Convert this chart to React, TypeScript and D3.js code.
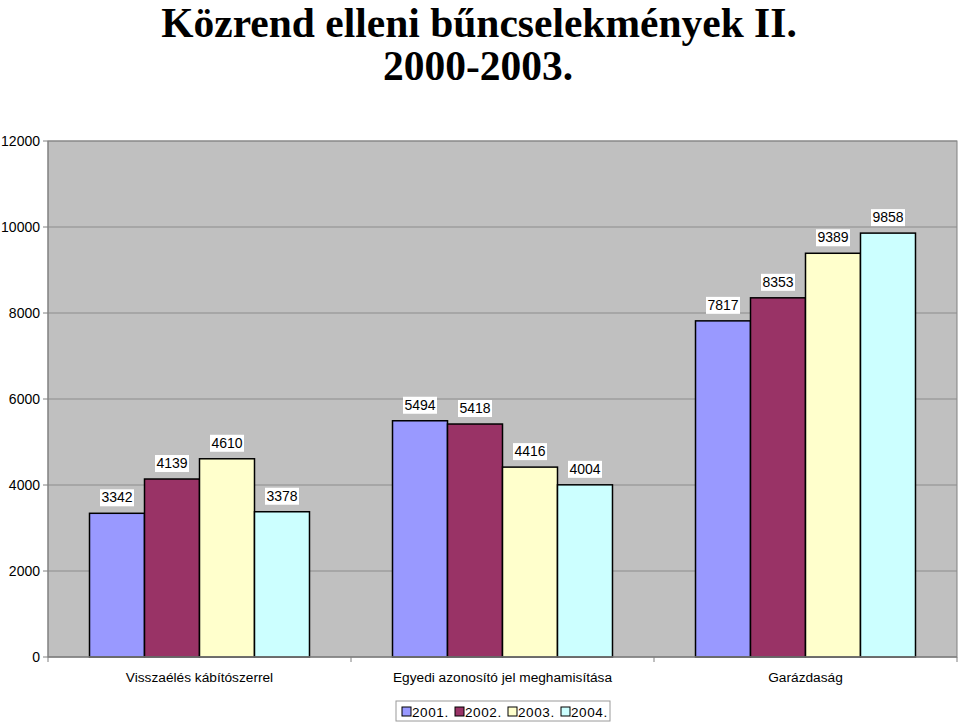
import * as d3 from 'd3';

const categories = ['Visszaélés kábítószerrel', 'Egyedi azonosító jel meghamisítása', 'Garázdaság'];
const years = ['2001.', '2002.', '2003.', '2004.'];
const values2001 = [3342, 5494, 7817];
const values2002 = [4139, 5418, 8353];
const values2003 = [4610, 4416, 9389];
const values2004 = [3378, 4004, 9858];
const yTicks = [0, 2000, 4000, 6000, 8000, 10000, 12000];
const colors = ['#9999FF', '#993366', '#FFFFCC', '#CCFFFF'];

const W = 960;
const H = 722;
const plot = { left: 48, right: 957, top: 141, bottom: 657 };
const sans = 'Liberation Sans, Arial, sans-serif';

export default function App() {
  const series = [values2001, values2002, values2003, values2004];

  const y = d3.scaleLinear().domain([0, 12000]).range([plot.bottom, plot.top]);
  const x0 = d3.scaleBand<string>()
    .domain(categories)
    .range([plot.left, plot.right])
    .paddingInner(0.274)
    .paddingOuter(0.137);
  const x1 = d3.scaleBand<string>().domain(years).range([0, x0.bandwidth()]);

  const step = x0.step();
  const boundaries = d3.range(categories.length + 1).map(i => plot.left + i * step);

  const legendX = 396;
  const legendY = 701;

  return (
    <svg width={W} height={H} style={{ position: 'absolute', left: 0, top: 0, background: '#fff' }}>
      {/* title */}
      <text x={479} y={37} textAnchor="middle" fontFamily="Liberation Serif, Times New Roman, serif"
        fontWeight="bold" fontSize={41.5}>Közrend elleni bűncselekmények II.</text>
      <text x={478} y={80} textAnchor="middle" fontFamily="Liberation Serif, Times New Roman, serif"
        fontWeight="bold" fontSize={41.5}>2000-2003.</text>

      {/* plot background */}
      <rect x={plot.left} y={plot.top} width={plot.right - plot.left} height={plot.bottom - plot.top}
        fill="#C0C0C0" stroke="#808080" strokeWidth={1} />

      {/* gridlines */}
      {yTicks.filter(t => t > 0).map(t => (
        <line key={t} x1={plot.left} x2={plot.right} y1={y(t)} y2={y(t)} stroke="#8c8c8c" strokeWidth={1} />
      ))}

      {/* y axis */}
      <line x1={plot.left} x2={plot.left} y1={plot.top} y2={plot.bottom} stroke="#808080" />
      {yTicks.map(t => (
        <g key={t}>
          <line x1={plot.left - 5} x2={plot.left} y1={y(t)} y2={y(t)} stroke="#808080" />
          <text x={40} y={y(t) + 5} textAnchor="end" fontFamily={sans} fontSize={14} fill="#000">{t}</text>
        </g>
      ))}

      {/* bars */}
      {categories.map((c, ci) => (
        <g key={c} transform={`translate(${x0(c)},0)`}>
          {years.map((yr, si) => {
            const v = series[si][ci];
            return (
              <rect key={yr} x={x1(yr)} y={y(v)} width={x1.bandwidth()} height={plot.bottom - y(v)}
                fill={colors[si]} stroke="#000" strokeWidth={1.5} />
            );
          })}
        </g>
      ))}

      {/* x axis */}
      <line x1={plot.left} x2={plot.right} y1={plot.bottom} y2={plot.bottom} stroke="#808080" strokeWidth={1.5} />
      {boundaries.map((b, i) => (
        <line key={i} x1={b} x2={b} y1={plot.bottom} y2={plot.bottom + 5} stroke="#808080" />
      ))}
      {categories.map(c => (
        <text key={c} x={(x0(c) ?? 0) + x0.bandwidth() / 2} y={682} textAnchor="middle"
          fontFamily={sans} fontSize={13.7} fill="#000">{c}</text>
      ))}

      {/* value labels */}
      {categories.map((c, ci) => (
        <g key={c} transform={`translate(${x0(c)},0)`}>
          {years.map((yr, si) => {
            const v = series[si][ci];
            const cx = (x1(yr) ?? 0) + x1.bandwidth() / 2;
            const ty = y(v) - 11;
            return (
              <g key={yr}>
                <rect x={cx - 17} y={ty - 13} width={34} height={17} fill="#fff" />
                <text x={cx} y={ty} textAnchor="middle" fontFamily={sans} fontSize={14} fill="#000">{v}</text>
              </g>
            );
          })}
        </g>
      ))}

      {/* legend */}
      <rect x={legendX} y={legendY} width={214} height={20} fill="#fff" stroke="#9a9a9a" />
      {years.map((yr, i) => {
        const lx = legendX + 6 + i * 53;
        return (
          <g key={yr}>
            <rect x={lx} y={legendY + 6} width={9} height={9} fill={colors[i]} stroke="#000" />
            <text x={lx + 10} y={legendY + 16} fontFamily={sans} fontSize={13.5} letterSpacing={0.6} fill="#000">{yr}</text>
          </g>
        );
      })}
    </svg>
  );
}
